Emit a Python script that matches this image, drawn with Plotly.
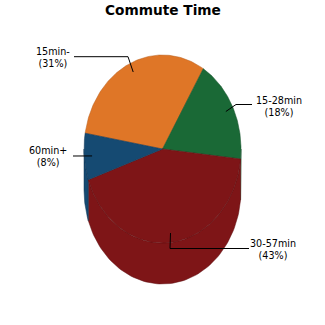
import numpy as np
import plotly.graph_objects as go

# ---- data ----
labels = ["15min-", "15-28min", "30-57min", "60min+"]
values = [31, 18, 43, 8]
title_text = "Commute Time"

# ---- style / layout ----
colors = ["#DF7627", "#1A6936", "#7E1517", "#154A72"]
rims = ["#B85E1C", "#124E28", "#5E0E10", "#0E3554"]
CX, CY, RX, RY, DEPTH = 162.5, 149.0, 78.5, 94.0, 41.0
START = 170.3  # degrees, slices run clockwise
# leader-line elbow, end and text positions (layout)
elbows = [(128, 56.7), (236, 104.5), (170, 248.5), (92, 156)]
ends = [(74, 56.7), (252, 104.5), (249, 248.5), (73, 156)]
texts = [(52.5, 57), (278.5, 106.3), (272.5, 249), (48, 156.5)]


def pt(a_deg, r=1.0, dy=0.0):
    a = np.radians(a_deg)
    return CX + r * RX * np.cos(a), CY - r * RY * np.sin(a) + dy


total = float(sum(values))
spans = []
a = START
for v in values:
    s = 360.0 * v / total
    spans.append((a, a - s))
    a -= s

fig = go.Figure()

# side walls (front half only)
for i, (a0, a1) in enumerate(spans):
    for flo, fhi in [(-180.0, 0.0), (180.0, 360.0), (-540.0, -360.0)]:
        lo, hi = max(a1, flo), min(a0, fhi)
        if lo >= hi:
            continue
        t = np.linspace(hi, lo, 80)
        xt, yt = pt(t)
        xb, yb = pt(t[::-1], dy=DEPTH)
        xs = np.concatenate([xt, xb, xt[:1]])
        ys = np.concatenate([yt, yb, yt[:1]])
        fig.add_trace(go.Scatter(x=xs, y=ys, mode="lines", fill="toself",
                                 fillcolor=colors[i],
                                 line=dict(color=rims[i], width=0.5),
                                 hoverinfo="skip", showlegend=False))

# top faces
for i, (a0, a1) in enumerate(spans):
    t = np.linspace(a0, a1, 120)
    xa, ya = pt(t)
    xs = np.concatenate([[CX], xa, [CX]])
    ys = np.concatenate([[CY], ya, [CY]])
    fig.add_trace(go.Scatter(x=xs, y=ys, mode="lines", fill="toself",
                             fillcolor=colors[i],
                             line=dict(color=rims[i], width=0.5),
                             hoverinfo="skip", showlegend=False))

# leader lines and labels
annotations = []
for i, (a0, a1) in enumerate(spans):
    mid = (a0 + a1) / 2.0
    ax, ay = pt(mid, 0.9)
    fig.add_trace(go.Scatter(x=[ax, elbows[i][0], ends[i][0]],
                             y=[ay, elbows[i][1], ends[i][1]],
                             mode="lines", line=dict(color="black", width=1),
                             hoverinfo="skip", showlegend=False))
    pct = round(100 * values[i] / total)
    annotations.append(dict(x=texts[i][0], y=texts[i][1],
                            text=f"{labels[i]}<br>({pct}%)",
                            showarrow=False, xanchor="center", yanchor="middle",
                            align="center",
                            font=dict(family="DejaVu Sans", size=9.6, color="black")))

annotations.append(dict(x=162.5, y=10, text=f"<b>{title_text}</b>", showarrow=False,
                        xanchor="center", yanchor="middle",
                        font=dict(family="DejaVu Sans", size=13.7, color="black")))

fig.update_layout(
    width=325, height=325,
    margin=dict(l=0, r=0, t=0, b=0),
    paper_bgcolor="white", plot_bgcolor="white",
    xaxis=dict(range=[0, 325], visible=False, fixedrange=True),
    yaxis=dict(range=[325, 0], visible=False, fixedrange=True),
    annotations=annotations,
    showlegend=False,
)

fig.write_html("out.html", config={"displayModeBar": False})
